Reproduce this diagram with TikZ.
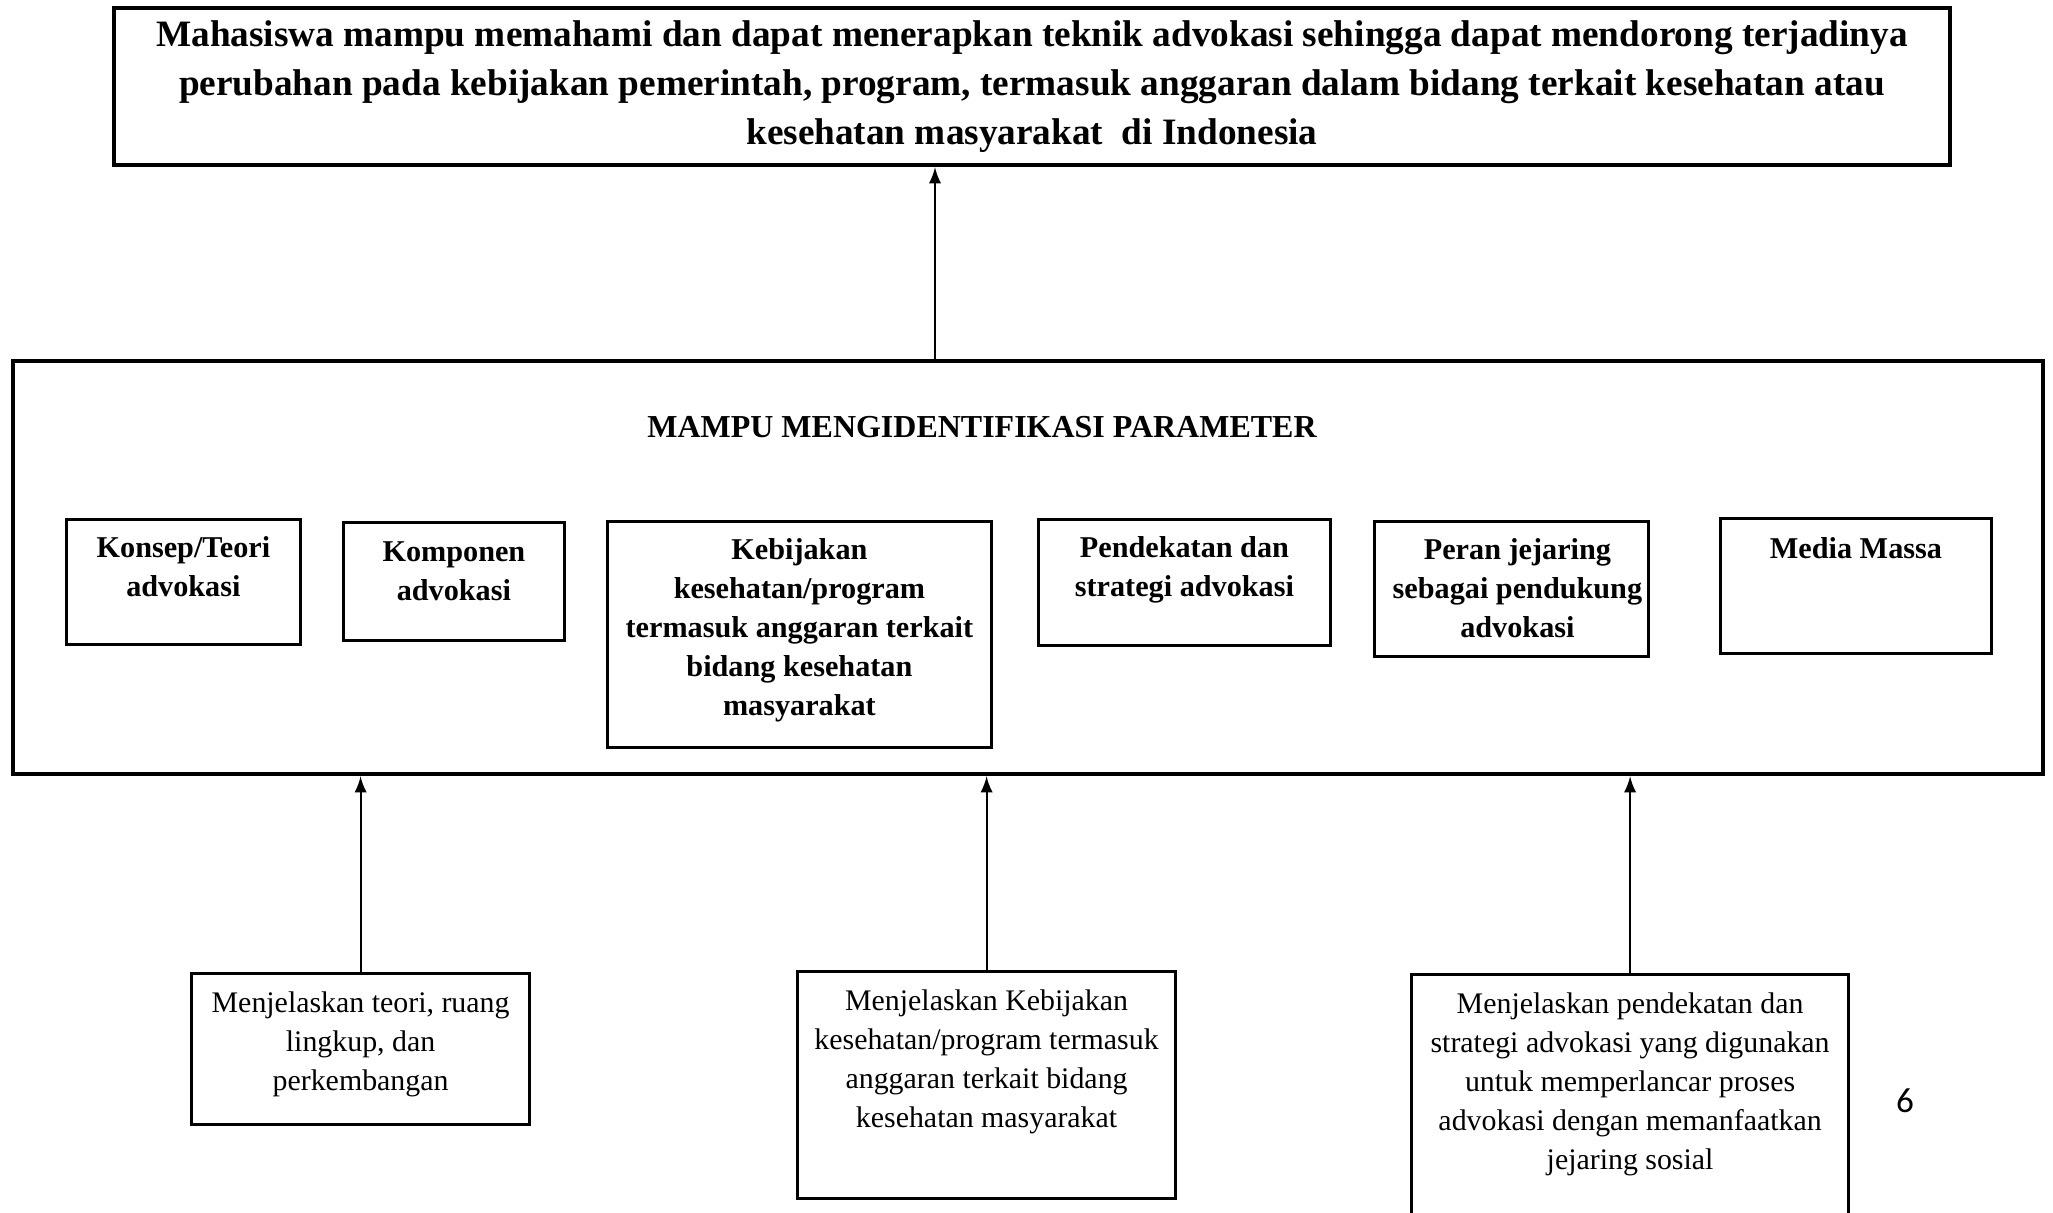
\documentclass[tikz,border=0pt]{standalone}
\usepackage{fontspec}
\setmainfont{Liberation Serif}
\newfontfamily\pagefont{Carlito}
\usetikzlibrary{positioning}

\begin{document}
\begin{tikzpicture}[
    goal/.style = {
      draw,
      line width=1.3pt,
      minimum width=18.36cm,
      minimum height=1.57cm,
      align=center,
      font=\bfseries\fontsize{10.6}{13.9}\selectfont
    },
    frame/.style = {draw, line width=1.3pt, minimum width=20.3cm, minimum height=4.13cm},
    item/.style = {draw, line width=0.8pt, anchor=north west},
    itemtext/.style = {align=center, inner sep=0pt, font=\bfseries\fontsize{8.6}{11.1}\selectfont},
    desc/.style = {draw, line width=0.9pt, anchor=north west},
    desctext/.style = {align=center, inner sep=0pt, font=\fontsize{8.5}{11.1}\selectfont},
    arrow/.style = {-latex, line width=0.6pt}
  ]
\clip (0,0) rectangle (20.53,-12.13);

% learning goal
\node[goal] (goal) at (10.32,-0.865) {Mahasiswa mampu memahami dan dapat menerapkan teknik advokasi sehingga dapat mendorong terjadinya\\perubahan pada kebijakan pemerintah, program, termasuk anggaran dalam bidang terkait kesehatan atau\\kesehatan masyarakat \ di Indonesia};

% parameter frame
\node[frame] (params) at (10.28,-5.675) {};
\node[font=\bfseries\fontsize{9.1}{11}\selectfont] (ptitle) at (9.82,-4.27) {MAMPU MENGIDENTIFIKASI PARAMETER};

\coordinate (upx) at (9.35,0);
\draw[arrow] (params.north -| upx) -- (goal.south -| upx);

% parameters
\node[item, minimum width=2.34cm, minimum height=1.25cm] (konsep) at (0.65,-5.18) {};
\node[itemtext, below=0.18 of konsep.north] {Konsep/Teori\\advokasi};
\node[item, minimum width=2.21cm, minimum height=1.18cm] (komponen) at (3.42,-5.21) {};
\node[itemtext, below=0.2 of komponen.north] {Komponen\\advokasi};
\node[item, minimum width=3.84cm, minimum height=2.26cm] (kebijakan) at (6.06,-5.20) {};
\node[itemtext, below=0.18 of kebijakan.north] {Kebijakan\\kesehatan/program\\termasuk anggaran terkait\\bidang kesehatan\\masyarakat};
\node[item, minimum width=2.92cm, minimum height=1.26cm] (pendekatan) at (10.37,-5.18) {};
\node[itemtext, below=0.18 of pendekatan.north] {Pendekatan dan\\strategi advokasi};
\node[item, minimum width=2.74cm, minimum height=1.35cm] (jejaring) at (13.73,-5.20) {};
\node[itemtext, below=0.18 of jejaring.north, xshift=0.06cm] {Peran jejaring\\sebagai pendukung\\advokasi};
\node[item, minimum width=2.71cm, minimum height=1.35cm] (media) at (17.19,-5.17) {};
\node[itemtext, below=0.2 of media.north] {Media Massa};

% descriptions
\node[desc, minimum width=3.38cm, minimum height=1.51cm] (teori) at (1.90,-9.72) {};
\node[desctext, below=0.19 of teori.north] {Menjelaskan teori, ruang\\lingkup, dan\\perkembangan};
\node[desc, minimum width=3.78cm, minimum height=2.27cm] (kebdesc) at (7.96,-9.70) {};
\node[desctext, below=0.19 of kebdesc.north] {Menjelaskan Kebijakan\\kesehatan/program termasuk\\anggaran terkait bidang\\kesehatan masyarakat};
\node[desc, minimum width=4.37cm, minimum height=2.6cm] (strategi) at (14.10,-9.73) {};
\node[desctext, below=0.19 of strategi.north] {Menjelaskan pendekatan dan\\strategi advokasi yang digunakan\\untuk memperlancar proses\\advokasi dengan memanfaatkan\\jejaring sosial};

\draw[arrow] (teori.north) -- (teori.north |- params.south);
\draw[arrow] (kebdesc.north) -- (kebdesc.north |- params.south);
\draw[arrow] (strategi.north) -- (strategi.north |- params.south);

\node[font=\pagefont\fontsize{10}{12}\selectfont] (pagenum) at (19.05,-11.01) {6};
\end{tikzpicture}
\end{document}
